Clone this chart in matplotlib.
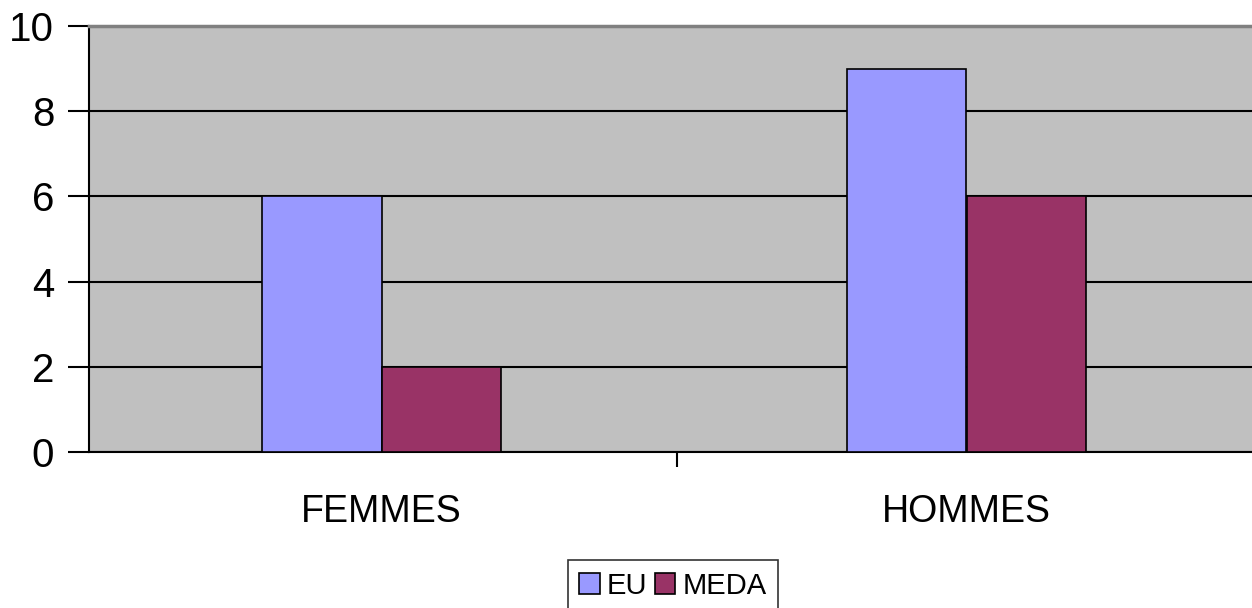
import matplotlib
matplotlib.use("Agg")
import matplotlib.pyplot as plt
import numpy as np

categories = ["FEMMES", "HOMMES"]
series_names = ["EU", "MEDA"]
eu_values = [6, 9]
meda_values = [2, 6]
yticks = [0, 2, 4, 6, 8, 10]

plt.rcParams['font.family'] = ['Liberation Sans', 'DejaVu Sans']

fig = plt.figure(figsize=(12.52, 6.08), dpi=100)
ax = fig.add_axes([89/1252, 1-452/608, (1259-89)/1252, (452-26)/608])
ax.set_facecolor('#C0C0C0')

x = np.arange(len(categories))
w = 0.205
ax.bar(x - w/2, eu_values, w, color='#9999FF', edgecolor='black', linewidth=1.2, label=series_names[0], zorder=3)
ax.bar(x + w/2, meda_values, w, color='#993366', edgecolor='black', linewidth=1.2, label=series_names[1], zorder=3)

ax.set_xlim(-0.5, 1.5)
ax.set_ylim(0, 10)
ax.set_yticks(yticks)
ax.set_yticklabels([str(v) for v in yticks], fontsize=29)
ax.set_xticks([0.505])
ax.set_xticklabels([""])
ax.set_xticks(x, minor=True)
ax.set_xticklabels(categories, minor=True, fontsize=27)
ax.tick_params(axis='x', which='minor', length=0, pad=30)
ax.tick_params(axis='x', which='major', length=11, width=1.5, direction='out')
ax.tick_params(axis='y', length=15, width=1.5, direction='out', pad=10)

ax.yaxis.grid(True, color='black', linewidth=1.5, zorder=1)
ax.set_axisbelow(True)
for s in ['left', 'bottom']:
    ax.spines[s].set_color('black')
    ax.spines[s].set_linewidth(1.5)
ax.spines['top'].set_color('#808080')
ax.spines['top'].set_linewidth(2.5)
ax.spines['right'].set_visible(False)

leg = fig.legend(loc='upper center', bbox_to_anchor=(673/1252, 1-560/608),
                 ncol=2, fontsize=21, frameon=True, fancybox=False,
                 handlelength=0.7, handleheight=0.7, handletextpad=0.25,
                 columnspacing=0.25, borderpad=0.4, borderaxespad=0)
leg.get_frame().set_edgecolor('black')
leg.get_frame().set_linewidth(1.2)

fig.savefig('out.png', dpi=100)
